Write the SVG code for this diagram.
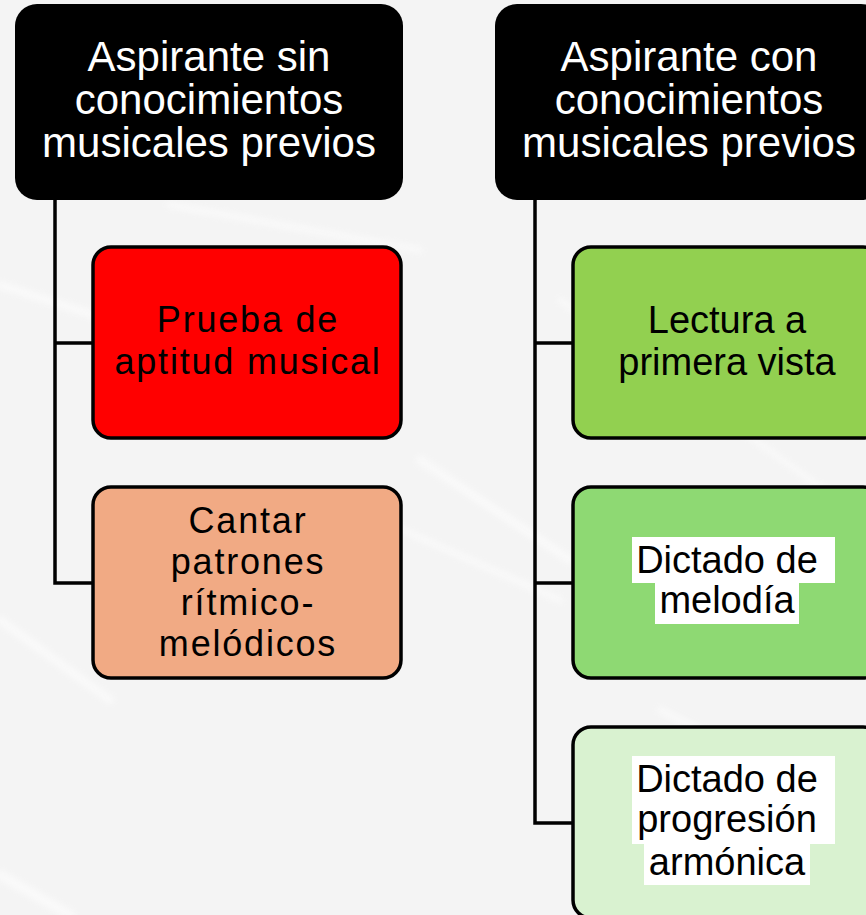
<svg xmlns="http://www.w3.org/2000/svg" width="866" height="915" viewBox="0 0 866 915">
  <style>
    .hdr { fill: #000000; }
    .hdrtxt { font-family: "Liberation Sans", Arial, sans-serif; font-size: 42px; fill: #ffffff; text-anchor: middle; }
    .box { stroke: #000000; stroke-width: 3.5; }
    .txtA { font-family: "Liberation Sans", Arial, sans-serif; font-size: 36px; letter-spacing: 1.8px; fill: #000000; text-anchor: middle; }
    .txtB { font-family: "Liberation Sans", Arial, sans-serif; font-size: 38px; fill: #000000; text-anchor: middle; }
    .conn { fill: none; stroke: #000000; stroke-width: 3.5; }
    .hl { fill: #ffffff; }
    .streak { stroke: #ffffff; fill: none; stroke-linecap: round; }
  </style>
  <defs>
    <filter id="blur" x="-10%" y="-50%" width="120%" height="200%">
      <feGaussianBlur stdDeviation="3"/>
    </filter>
  </defs>
  <rect x="0" y="0" width="866" height="915" fill="#f4f4f4"/>
  <g id="background-streaks" filter="url(#blur)" opacity="0.55">
    <path class="streak" d="M 0 285 L 140 330" stroke-width="8"/>
    <path class="streak" d="M 170 205 L 420 250" stroke-width="6"/>
    <path class="streak" d="M 420 460 L 570 560" stroke-width="8"/>
    <path class="streak" d="M 560 300 L 866 520" stroke-width="5"/>
    <path class="streak" d="M 0 620 L 110 700" stroke-width="8"/>
    <path class="streak" d="M 380 520 L 560 600" stroke-width="6"/>
    <path class="streak" d="M 0 875 L 70 915" stroke-width="10"/>
    <path class="streak" d="M 660 710 L 760 760" stroke-width="6"/>
  </g>

  <g id="connectors">
    <path class="conn" d="M 55 200 L 55 583 L 94 583"/>
    <path class="conn" d="M 55 343 L 94 343"/>
    <path class="conn" d="M 535 200 L 535 823 L 574 823"/>
    <path class="conn" d="M 535 343 L 574 343"/>
    <path class="conn" d="M 535 583 L 574 583"/>
  </g>

  <g id="header-sin">
    <rect class="hdr" x="15" y="4" width="388" height="196" rx="22" ry="22"/>
    <text class="hdrtxt" x="209" y="71">Aspirante sin</text>
    <text class="hdrtxt" x="209" y="114">conocimientos</text>
    <text class="hdrtxt" x="209" y="157">musicales previos</text>
  </g>

  <g id="header-con">
    <rect class="hdr" x="495" y="4" width="388" height="196" rx="22" ry="22"/>
    <text class="hdrtxt" x="689" y="71">Aspirante con</text>
    <text class="hdrtxt" x="689" y="114">conocimientos</text>
    <text class="hdrtxt" x="689" y="157">musicales previos</text>
  </g>

  <g id="prueba-aptitud">
    <rect class="box" x="93" y="247" width="308" height="191" rx="18" ry="18" fill="#ff0000"/>
    <text class="txtA" x="248" y="332">Prueba de</text>
    <text class="txtA" x="248" y="374">aptitud musical</text>
  </g>

  <g id="cantar-patrones">
    <rect class="box" x="93" y="487" width="308" height="191" rx="18" ry="18" fill="#f1aa84"/>
    <text class="txtA" x="248" y="533">Cantar</text>
    <text class="txtA" x="248" y="574">patrones</text>
    <text class="txtA" x="248" y="615">rítmico-</text>
    <text class="txtA" x="248" y="656">melódicos</text>
  </g>

  <g id="lectura">
    <rect class="box" x="573" y="247" width="308" height="191" rx="18" ry="18" fill="#92d050"/>
    <text class="txtB" x="727" y="333">Lectura a</text>
    <text class="txtB" x="727" y="375">primera vista</text>
  </g>

  <g id="dictado-melodia">
    <rect class="box" x="573" y="487" width="308" height="191" rx="18" ry="18" fill="#8ed973"/>
    <rect class="hl" x="632" y="537" width="203" height="46"/>
    <rect class="hl" x="655" y="583" width="144" height="41"/>
    <text class="txtB" x="727" y="573">Dictado de </text>
    <text class="txtB" x="727" y="613">melodía</text>
  </g>

  <g id="dictado-progresion">
    <rect class="box" x="573" y="727" width="308" height="191" rx="18" ry="18" fill="#d9f2d0"/>
    <rect class="hl" x="632" y="756" width="203" height="45"/>
    <rect class="hl" x="632" y="801" width="203" height="43"/>
    <rect class="hl" x="644" y="844" width="166" height="41"/>
    <text class="txtB" x="727" y="792">Dictado de </text>
    <text class="txtB" x="727" y="832">progresión </text>
    <text class="txtB" x="727" y="875">armónica</text>
  </g>
</svg>
